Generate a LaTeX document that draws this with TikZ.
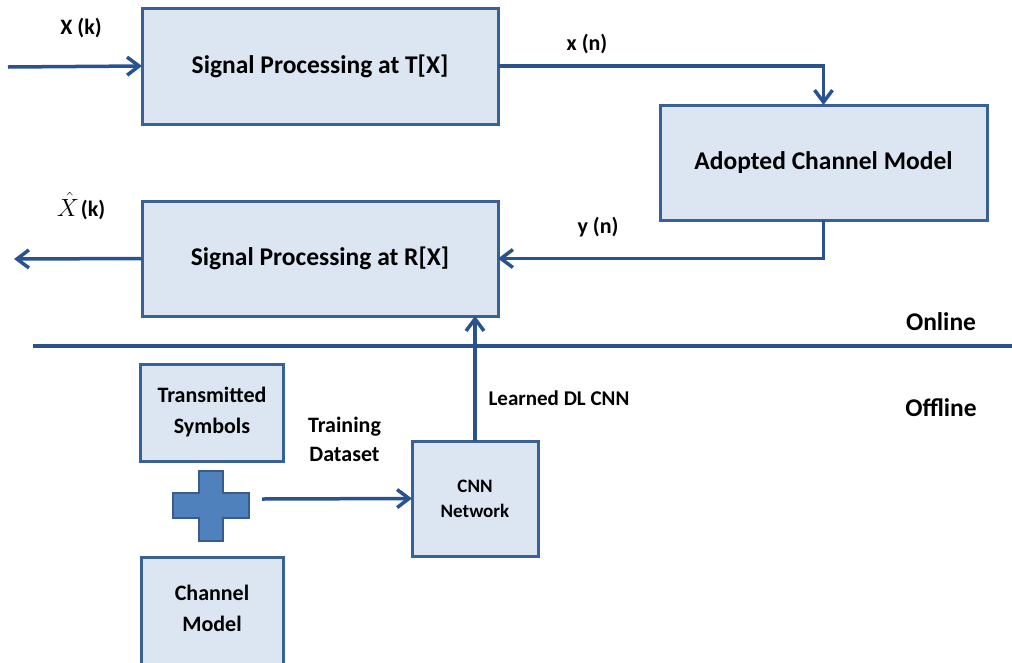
\documentclass[tikz,border=0pt]{standalone}
\usepackage{fontspec}
\setmainfont{Carlito}
\usetikzlibrary{arrows.meta}
\definecolor{boxfill}{HTML}{DCE6F2}
\definecolor{boxline}{HTML}{3A6194}
\definecolor{conn}{HTML}{285390}
\definecolor{plusfill}{HTML}{4F81BD}
\definecolor{plusline}{HTML}{385D8A}
\tikzset{
  blk/.style={draw=boxline, fill=boxfill, line width=3pt, rectangle, inner sep=0pt, outer sep=0pt, align=center, font=\fontsize{25.5}{30}\selectfont\bfseries},
  smallblk/.style={blk, font=\fontsize{22}{31}\selectfont\bfseries},
  conn/.style={draw=conn, line width=3.5pt, -{Straight Barb[length=12pt,width=18pt]}},
  lbl/.style={inner sep=0pt, align=center, font=\fontsize{22}{29}\selectfont\bfseries},
  biglbl/.style={inner sep=0pt, font=\fontsize{25.5}{30}\selectfont\bfseries},
}
\begin{document}
\begin{tikzpicture}[x=1pt,y=-1pt]
\useasboundingbox (0,0) rectangle (1012,662);
% blocks
\node[blk, minimum width=356pt, minimum height=116pt] (T) at (320,66) {Signal Processing at T[X]};
\node[blk, minimum width=356pt, minimum height=115pt] (R) at (320,258.5) {Signal Processing at R[X]};
\node[blk, minimum width=327pt, minimum height=115pt] (A) at (823.5,162.5) {Adopted Channel Model};
\node[smallblk, minimum width=143pt, minimum height=97pt] (S) at (212,412.5) {Transmitted\\Symbols};
\node[smallblk, minimum width=142pt, minimum height=111pt] (C) at (212,612.5) {};
\node[lbl, font=\fontsize{22}{31}\selectfont\bfseries] (Ct) at (212,608) {Channel\\Model};
\node[blk, font=\fontsize{19}{25}\selectfont\bfseries, minimum width=126pt, minimum height=115pt] (N) at (475,498.5) {CNN\\Network};
% plus sign
\draw[draw=plusline, fill=plusfill, line width=2.5pt]
  (199,471) -- (223,471) -- (223,493) -- (249,493) -- (249,518) -- (223,518)
  -- (223,541) -- (199,541) -- (199,518) -- (173,518) -- (173,493) -- (199,493) -- cycle;
% coordinates
\coordinate (in) at (8,67);
\coordinate (out) at (14,259);
\coordinate (tr) at (262,499);
\coordinate (sepL) at (33,346);
\coordinate (sepR) at (1012,346);
% connectors
\draw[conn] (in) -- (T.west);
\draw[conn] (R.west) -- (out);
\draw[conn] (T.east) -| (A.north);
\draw[conn] (A.south) |- (R.east);
\draw[conn] (tr) -- (N.west);
\draw[conn] (N.north) -- (R.south -| N.north);
\draw[draw=conn, line width=3.5pt] (sepL) -- (sepR);
% labels
\node[lbl] (lXk) at (81,28) {X (k)};
\node[lbl] (lXh) at (81,206) {\fontsize{24}{29}\selectfont$\hat{X}$\kern2pt\fontsize{22}{29}\selectfont(k)};
\node[lbl] (lxn) at (587,44) {x (n)};
\node[lbl] (lyn) at (598,227) {y (n)};
\node[lbl] (ltd) at (344.5,439) {Training\\Dataset};
\node[lbl, font=\fontsize{21}{25}\selectfont\bfseries] (lld) at (559,398) {Learned DL CNN};
\node[biglbl] (lon) at (941,322) {Online};
\node[biglbl] (loff) at (941,408) {Offline};
\end{tikzpicture}
\end{document}
